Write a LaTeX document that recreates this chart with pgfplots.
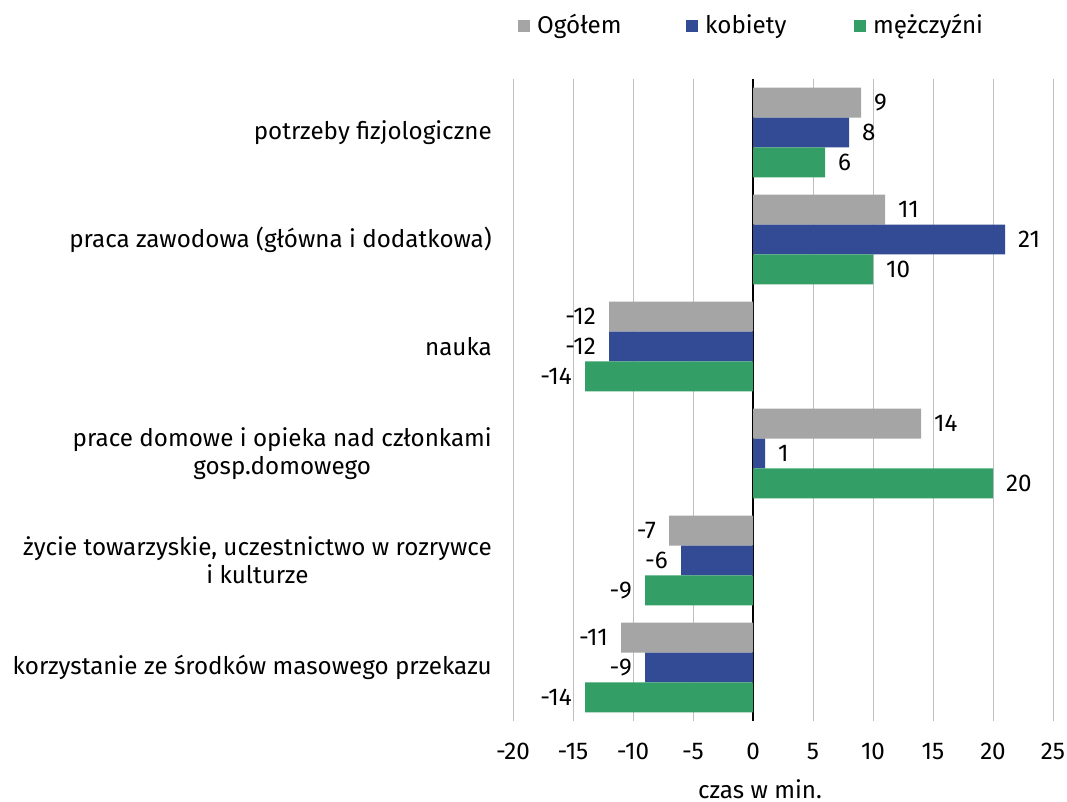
\documentclass[border=0pt]{standalone}
\usepackage{fontspec}
\setmainfont{Fira Sans}
\usepackage{pgfplots}
\pgfplotsset{compat=1.18}
\definecolor{cgray}{HTML}{A5A5A5}
\definecolor{cblue}{HTML}{334A94}
\definecolor{cgreen}{HTML}{339F67}
\definecolor{gridgray}{HTML}{BFBFBF}
\begin{document}
\fontsize{24.2}{28}\selectfont
\begin{tikzpicture}[x=1pt,y=1pt]
\useasboundingbox (0,0) rectangle (1067,802);
\begin{axis}[
  at={(513pt,81pt)}, anchor=south west,
  scale only axis, width=540pt, height=642pt,
  xbar, bar width=0.28,
  xmin=-20, xmax=25, ymin=-0.5, ymax=5.5, y dir=reverse,
  xtick={-20,-15,...,25},
  ytick={0,1,2,3,4,5},
  yticklabels={potrzeby fizjologiczne, praca zawodowa (główna i dodatkowa), nauka, {prace domowe i opieka nad członkami\\gosp.domowego}, {życie towarzyskie, uczestnictwo w rozrywce\\i kulturze}, korzystanie ze środków masowego przekazu},
  yticklabel style={align=center, xshift=-13pt},
  xticklabel style={yshift=-14pt},
  axis line style={draw=none},
  major tick length=0pt,
  xmajorgrids, grid style={draw=gridgray, line width=1pt},
  extra x ticks={0}, extra x tick labels={},
  extra x tick style={grid style={draw=black, line width=2.5pt}},
  /pgf/number format/assume math mode=true,
  nodes near coords, nodes near coords align={horizontal},
  every node near coord/.append style={inner xsep=13pt, text=black},
  xlabel={czas w min.},
  xlabel style={yshift=-10pt, xshift=-23pt, inner sep=1pt},
  legend columns=3,
  legend style={at={(0.0093,1.0826)}, anchor=west, draw=none, inner sep=0pt,
    nodes={inner sep=0pt},
    /tikz/every even column/.append style={text width=149pt},
    /tikz/every odd column/.append style={column sep=7pt}},
  legend image code/.code={\fill[#1] (0pt,-6pt) rectangle (12pt,6pt);},
]
\addplot[fill=cgray, draw=none, bar shift=-0.28] coordinates {(9,0) (11,1) (-12,2) (14,3) (-7,4) (-11,5)};
\addplot[fill=cblue, draw=none, bar shift=0] coordinates {(8,0) (21,1) (-12,2) (1,3) (-6,4) (-9,5)};
\addplot[fill=cgreen, draw=none, bar shift=0.28] coordinates {(6,0) (10,1) (-14,2) (20,3) (-9,4) (-14,5)};
\legend{Ogółem, kobiety, mężczyźni}
\end{axis}
\end{tikzpicture}
\end{document}
